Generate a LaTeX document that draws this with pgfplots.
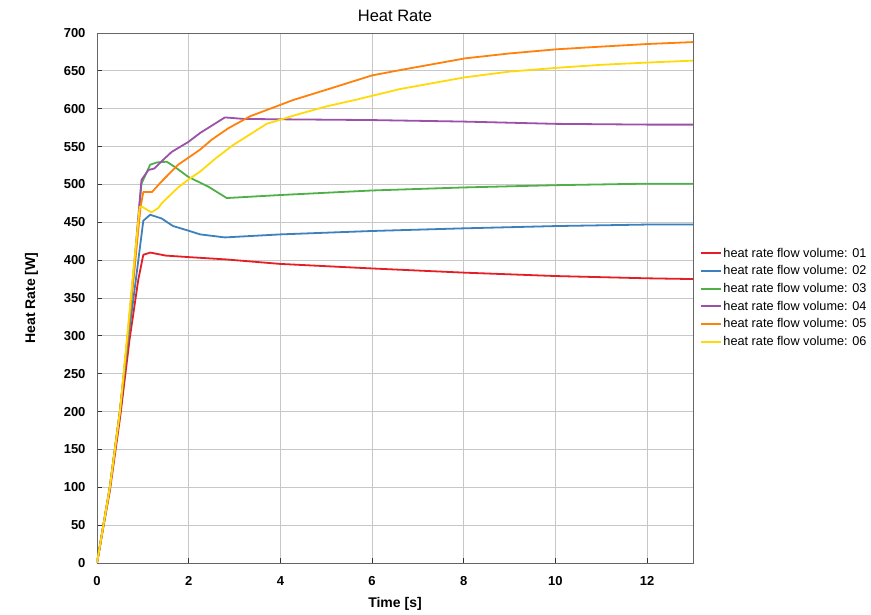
\documentclass[border=0pt]{standalone}
\usepackage{fontspec}
\setmainfont{Liberation Sans}
\usepackage{pgfplots}
\pgfplotsset{compat=1.18}
\definecolor{cred}{RGB}{228,30,36}
\definecolor{cblue}{RGB}{60,128,190}
\definecolor{cgreen}{RGB}{80,176,72}
\definecolor{cpurple}{RGB}{155,80,170}
\definecolor{corange}{RGB}{255,128,10}
\definecolor{cyellow}{RGB}{255,218,10}
\begin{document}
\begin{tikzpicture}
\begin{axis}[
  scale only axis, width=596pt, height=530pt,
  xmin=0, xmax=13, ymin=0, ymax=700,
  xtick={0,2,...,12}, ytick={0,50,...,700},
  grid=major, grid style={black!22, line width=0.9pt},
  axis line style={black!60, line width=0.9pt},
  tick pos=left, tick align=inside, major tick length=5pt,
  tick style={black!80, line width=0.9pt},
  /pgf/number format/assume math mode=true,
  ticklabel style={font=\fontsize{13}{13}\selectfont\bfseries},
  yticklabel style={xshift=-8pt},
  xticklabel style={yshift=-10pt},
  title={Heat Rate},
  title style={font=\fontsize{16.5}{16.5}\selectfont, at={(axis description cs:0.5,1)}, anchor=base, yshift=5pt},
  xlabel={Time [s]}, ylabel={Heat Rate [W]},
  label style={font=\fontsize{14}{14}\selectfont\bfseries},
  xlabel style={at={(axis description cs:0.5,0)}, anchor=base, yshift=-45pt},
  ylabel style={at={(axis description cs:-0.104,0.5)}, anchor=base},
  legend style={draw=none, fill=none, at={(axis description cs:1.0117,0.501)}, anchor=west,
    font=\fontsize{12.7}{14}\selectfont, inner sep=0pt, row sep=4pt,
    nodes={inner sep=1.5pt}},
  legend cell align=left,
  legend image code/.code={\draw[#1, line width=1.8pt] (0pt,0pt) -- (20pt,0pt);},
  every axis plot/.append style={line width=1.8pt, line join=round, no marks},
]
\addplot[cred] coordinates {(0,0)(0.14,48)(0.28,95)(0.51,195)(0.71,295)(0.9,374)(1.01,407)(1.16,410)(1.5,406)(2.0,404)(2.8,401)(4,395)(6,389)(8,383.5)(10,379)(12,376)(13,375)};
\addlegendentry{heat rate flow volume: 01}
\addplot[cblue] coordinates {(0,0)(0.14,50)(0.28,100)(0.5,200)(0.69,300)(0.86,380)(1.01,452)(1.16,460)(1.41,455)(1.66,445)(1.99,439)(2.25,434)(2.79,430)(4,434)(6,438.5)(8,442)(10,445)(12,447)(13,447)};
\addlegendentry{heat rate flow volume: 02}
\addplot[cgreen] coordinates {(0,0)(0.14,50)(0.28,100)(0.5,200)(0.68,300)(0.83,400)(0.97,501)(1.16,526)(1.3,529)(1.52,530)(1.7,523)(1.99,510)(2.43,497)(2.83,482)(4,486)(6,492)(8,496)(10,499)(12,501)(13,501)};
\addlegendentry{heat rate flow volume: 03}
\addplot[cpurple] coordinates {(0,0)(0.14,50)(0.28,100)(0.5,200)(0.67,300)(0.82,400)(0.97,506)(1.12,519)(1.25,521)(1.4,530)(1.63,543)(1.99,556)(2.25,568)(2.79,588.5)(3.2,586.5)(4,586)(6,585)(8,583)(10,580)(12,579)(13,579)};
\addlegendentry{heat rate flow volume: 04}
\addplot[corange] coordinates {(0,0)(0.14,50)(0.28,100)(0.5,200)(0.67,300)(0.82,390)(0.95,470)(1.01,490)(1.2,490)(1.41,504)(1.77,526)(2.25,546)(2.5,559)(2.86,574)(3.34,590)(4.28,611.5)(5,625)(6,644)(6.61,651)(8.03,666.5)(9,673)(10.03,678.5)(11,682)(12.02,685.5)(13,688)};
\addlegendentry{heat rate flow volume: 05}
\addplot[cyellow] coordinates {(0,0)(0.14,50)(0.28,100)(0.5,200)(0.66,300)(0.8,390)(0.93,470)(0.97,471)(1.19,463)(1.34,469)(1.41,475)(1.77,496)(2.03,508)(2.25,517)(2.6,535)(2.97,552)(3.7,580)(4.35,592)(5.0,603)(5.66,612)(6.61,626)(8.03,641.5)(9,649)(10.03,654)(11,658)(12.02,661)(13,663.5)};
\addlegendentry{heat rate flow volume: 06}
\end{axis}
\path (-97pt,-50pt) rectangle (774pt,563pt);
\end{tikzpicture}
\end{document}
